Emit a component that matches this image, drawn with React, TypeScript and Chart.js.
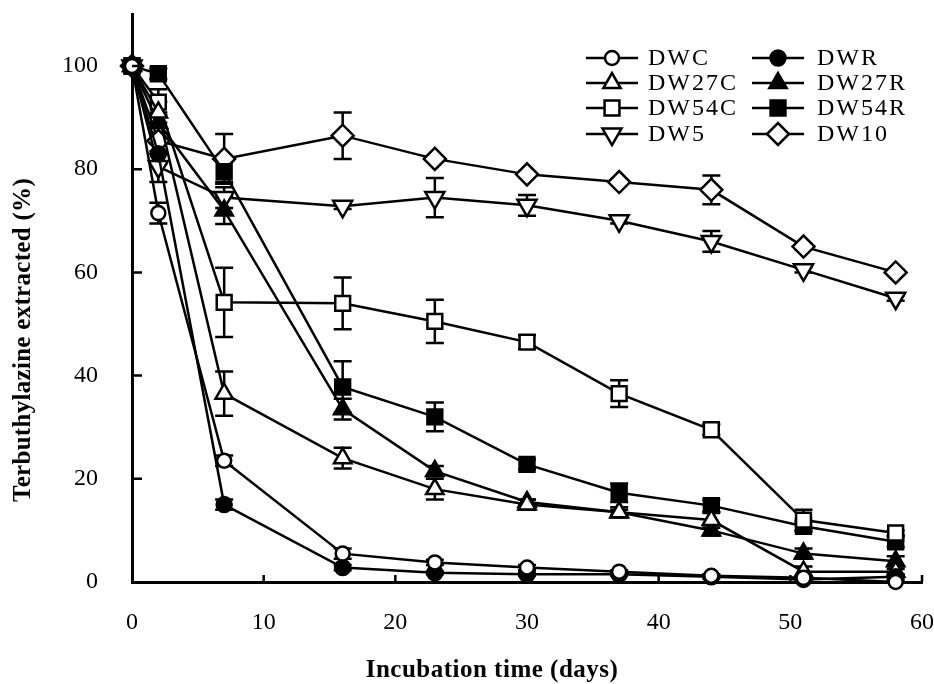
import React, { useEffect, useRef } from 'react';
import { Chart, registerables } from 'chart.js';
import { drawPoint } from 'chart.js/helpers';

Chart.register(...registerables);

// ---- data ----
const days = [0, 2, 7, 16, 23, 30, 37, 44, 51, 58];
const yTicks = [0, 20, 40, 60, 80, 100];
const xTicks = [0, 10, 20, 30, 40, 50, 60];

const DWC = [100, 71.5, 23.5, 5.5, 3.8, 2.8, 2, 1.2, 0.8, 0];
const DWC_err = [0, 2, 1, 1, 0.5, 0.5, 0.3, 0.3, 0.3, 0.3];
const DWR = [100, 83, 15, 2.8, 1.8, 1.5, 1.5, 1, 0.5, 1];
const DWR_err = [0, 2, 1, 0.5, 0.3, 0.3, 0.3, 0.3, 0.3, 0.3];
const DW27C = [100, 91, 36.5, 24, 18, 15, 13.5, 12, 2, 2];
const DW27C_err = [0, 2, 4.3, 2, 2, 1, 0.5, 1.5, 1, 0.5];
const DW27R = [100, 89, 72, 33.5, 21.5, 15.5, 13.5, 10, 5.5, 4];
const DW27R_err = [0, 2, 2.6, 2, 1, 0.5, 1, 1, 1, 1];
const DW54C = [100, 93, 54.2, 54, 50.5, 46.5, 36.5, 29.5, 12, 9.5];
const DW54C_err = [0, 2.5, 6.7, 5, 4.2, 1.3, 2.6, 1, 2, 0.5];
const DW54R = [100, 98.5, 79.5, 37.8, 32, 22.8, 17.3, 14.8, 10.8, 7.8];
const DW54R_err = [0, 1, 2, 5, 2.8, 1, 1.8, 1.2, 1, 1];
const DW5 = [100, 80.5, 74.5, 72.8, 74.5, 73, 70, 66, 60.5, 55];
const DW5_err = [0, 3, 2, 0.5, 3.8, 2, 0.5, 2, 0.5, 0.5];
const DW10 = [100, 85.5, 82, 86.5, 82, 79, 77.5, 76, 65, 60];
const DW10_err = [0, 2.5, 4.8, 4.5, 0.5, 0.5, 0.5, 2.8, 0.5, 0.5];

const seriesNames = ['DWC', 'DWR', 'DW27C', 'DW27R', 'DW54C', 'DW54R', 'DW5', 'DW10'];
const seriesValues = [DWC, DWR, DW27C, DW27R, DW54C, DW54R, DW5, DW10];
const seriesErrors = [DWC_err, DWR_err, DW27C_err, DW27R_err, DW54C_err, DW54R_err, DW5_err, DW10_err];

const xTitle = 'Incubation time (days)';
const yTitle = 'Terbuthylazine extracted (%)';

// marker styles
const markerStyles = [
  { pointStyle: 'circle', fill: '#ffffff', radius: 7, rotation: 0 },
  { pointStyle: 'circle', fill: '#000000', radius: 7.5, rotation: 0 },
  { pointStyle: 'triangle', fill: '#ffffff', radius: 10, rotation: 0 },
  { pointStyle: 'triangle', fill: '#000000', radius: 10, rotation: 0 },
  { pointStyle: 'rect', fill: '#ffffff', radius: 10.5, rotation: 0 },
  { pointStyle: 'rect', fill: '#000000', radius: 10.5, rotation: 0 },
  { pointStyle: 'triangle', fill: '#ffffff', radius: 11, rotation: 180 },
  { pointStyle: 'rectRot', fill: '#ffffff', radius: 11, rotation: 0 },
];

const FONT = "'Liberation Serif', 'Times New Roman', serif";

const errorBarPlugin = {
  id: 'errorBars',
  beforeDatasetsDraw(chart: any) {
    const { ctx } = chart;
    const xs = chart.scales.x;
    const ys = chart.scales.y;
    ctx.save();
    ctx.strokeStyle = '#000';
    ctx.lineWidth = 2.5;
    chart.data.datasets.forEach((ds: any) => {
      const errs: number[] = ds.errors;
      ds.data.forEach((p: any, i: number) => {
        const e = errs[i];
        if (!e) return;
        const x = xs.getPixelForValue(p.x);
        const y1 = ys.getPixelForValue(p.y + e);
        const y2 = ys.getPixelForValue(Math.max(0, p.y - e));
        const cap = 9;
        ctx.beginPath();
        ctx.moveTo(x, y1);
        ctx.lineTo(x, y2);
        ctx.moveTo(x - cap, y1);
        ctx.lineTo(x + cap, y1);
        ctx.moveTo(x - cap, y2);
        ctx.lineTo(x + cap, y2);
        ctx.stroke();
      });
    });
    ctx.restore();
  },
};

const axisExtrasPlugin = {
  id: 'axisExtras',
  afterDraw(chart: any) {
    const { ctx, chartArea } = chart;
    const xs = chart.scales.x;
    const ys = chart.scales.y;
    ctx.save();
    ctx.strokeStyle = '#000';
    ctx.lineWidth = 2.5;
    ctx.beginPath();
    xTicks.forEach((v) => {
      if (v === 0) return;
      const x = xs.getPixelForValue(v);
      ctx.moveTo(x, chartArea.bottom);
      ctx.lineTo(x, chartArea.bottom - 7);
    });
    yTicks.forEach((v) => {
      if (v === 0) return;
      const y = ys.getPixelForValue(v);
      ctx.moveTo(chartArea.left, y);
      ctx.lineTo(chartArea.left + 10, y);
    });
    ctx.stroke();

    // axis titles
    ctx.fillStyle = '#000';
    ctx.textAlign = 'center';
    ctx.textBaseline = 'middle';
    ctx.font = `bold 25px ${FONT}`;
    (ctx as any).letterSpacing = '0.5px';
    ctx.fillText(xTitle, 492, 671);
    (ctx as any).letterSpacing = '0.3px';
    ctx.translate(24, 340);
    ctx.rotate(-Math.PI / 2);
    ctx.fillText(yTitle, 0, 0);
    ctx.restore();
  },
};

const legendPlugin = {
  id: 'customLegend',
  afterDraw(chart: any) {
    const { ctx } = chart;
    const colX = [612, 778];
    const textX = [648, 817];
    const rowY = [58, 83, 108, 134];
    const halfLine = 26;
    ctx.save();
    seriesNames.forEach((name, i) => {
      const col = i % 2;
      const row = Math.floor(i / 2);
      const cx = colX[col];
      const cy = rowY[row];
      const st = markerStyles[i];
      ctx.strokeStyle = '#000';
      ctx.lineWidth = 2.5;
      ctx.beginPath();
      ctx.moveTo(cx - halfLine, cy);
      ctx.lineTo(cx + halfLine, cy);
      ctx.stroke();
      ctx.fillStyle = st.fill;
      ctx.lineWidth = 2.5;
      drawPoint(ctx, { pointStyle: st.pointStyle as any, radius: st.radius, rotation: st.rotation, borderWidth: 2.5 } as any, cx, cy);
      ctx.fillStyle = '#000';
      ctx.font = `24px ${FONT}`;
      (ctx as any).letterSpacing = '2px';
      ctx.textBaseline = 'middle';
      ctx.textAlign = 'left';
      ctx.fillText(name, textX[col], cy + 1);
      (ctx as any).letterSpacing = '0px';
    });
    ctx.restore();
  },
};

export default function App() {
  const canvasRef = useRef<HTMLCanvasElement | null>(null);

  useEffect(() => {
    if (!canvasRef.current) return;
    const datasets = seriesNames.map((name, i) => ({
      label: name,
      data: days.map((d, j) => ({ x: d, y: seriesValues[i][j] })),
      errors: seriesErrors[i],
      showLine: true,
      borderColor: '#000',
      borderWidth: 2.5,
      backgroundColor: markerStyles[i].fill,
      pointBackgroundColor: markerStyles[i].fill,
      pointBorderColor: '#000',
      pointBorderWidth: 2.5,
      pointStyle: markerStyles[i].pointStyle,
      pointRadius: markerStyles[i].radius,
      pointRotation: markerStyles[i].rotation,
      pointHoverRadius: markerStyles[i].radius,
      tension: 0,
      clip: false as any,
    }));

    const chart = new Chart(canvasRef.current, {
      type: 'scatter',
      data: { datasets: datasets as any },
      options: {
        animation: false,
        responsive: false,
        maintainAspectRatio: false,
        layout: { autoPadding: false, padding: { left: 0, right: 11, top: 13, bottom: 0 } },
        plugins: {
          legend: { display: false },
          tooltip: { enabled: false },
        },
        scales: {
          x: {
            type: 'linear',
            min: 0,
            max: 60,
            afterFit: (s: any) => { s.height = 102; },
            afterBuildTicks: (s: any) => { s.ticks = xTicks.map((v) => ({ value: v })); },
            grid: { display: true, drawOnChartArea: false, drawTicks: true, tickLength: 26, tickColor: 'rgba(0,0,0,0)' },
            border: { display: true, color: '#000', width: 3 },
            ticks: {
              color: '#000',
              font: { family: FONT, size: 24 },
              padding: 0,
            },
          },
          y: {
            type: 'linear',
            min: 0,
            max: 110,
            afterFit: (s: any) => { s.width = 132; },
            afterBuildTicks: (s: any) => { s.ticks = yTicks.map((v) => ({ value: v })); },
            grid: { display: true, drawOnChartArea: false, drawTicks: true, tickLength: 34, tickColor: 'rgba(0,0,0,0)' },
            border: { display: true, color: '#000', width: 3 },
            ticks: {
              color: '#000',
              font: { family: FONT, size: 24 },
              padding: 0,
            },
          },
        },
      },
      plugins: [errorBarPlugin, axisExtrasPlugin, legendPlugin],
    });
    return () => chart.destroy();
  }, []);

  return (
    <div style={{ position: 'absolute', left: 0, top: 0, width: 934, height: 684, background: '#fff' }}>
      <canvas ref={canvasRef} width={934} height={684} style={{ width: 934, height: 684 }} />
    </div>
  );
}
